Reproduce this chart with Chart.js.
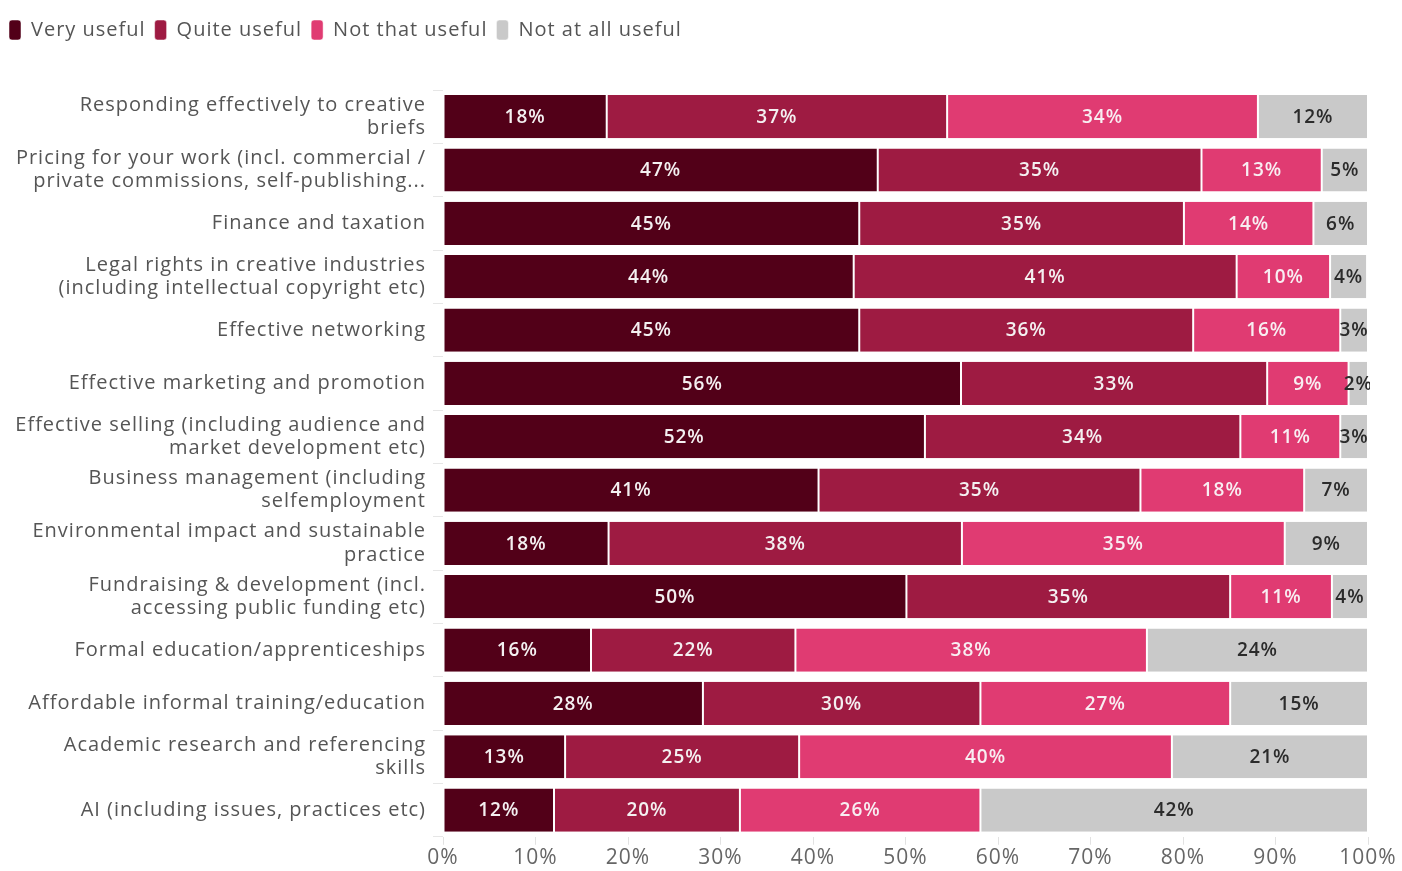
<!DOCTYPE html>
<html>
<head>
<meta charset="utf-8">
<script src="https://cdn.jsdelivr.net/npm/chart.js@4.4.1/dist/chart.umd.min.js"></script>
<style>
  html, body { margin: 0; padding: 0; background: #fff; }
  #wrap { position: relative; width: 1402px; height: 871px; }
</style>
</head>
<body>
<div id="wrap"><canvas id="c" width="1402" height="871"></canvas></div>
<script>
// Skill areas (each entry is a list of label lines)
const categories = [
  ["Responding effectively to creative", "briefs"],
  ["Pricing for your work (incl. commercial /", "private commissions, self-publishing..."],
  ["Finance and taxation"],
  ["Legal rights in creative industries", "(including intellectual copyright etc)"],
  ["Effective networking"],
  ["Effective marketing and promotion"],
  ["Effective selling (including audience and", "market development etc)"],
  ["Business management (including", "selfemployment"],
  ["Environmental impact and sustainable", "practice"],
  ["Fundraising & development (incl.", "accessing public funding etc)"],
  ["Formal education/apprenticeships"],
  ["Affordable informal training/education"],
  ["Academic research and referencing", "skills"],
  ["AI (including issues, practices etc)"]
];

// Share of respondents (%) per usefulness rating
const veryUseful     = [17.7, 47.0, 45.0, 44.4, 45.0, 56.0, 52.1, 40.6, 17.9, 50.1, 16.0, 28.1, 13.2, 12.0];
const quiteUseful    = [36.8, 35.0, 35.1, 41.4, 36.1, 33.1, 34.1, 34.8, 38.2, 35.0, 22.1, 30.0, 25.3, 20.1];
const notThatUseful  = [33.6, 13.0, 14.0, 10.1, 15.9,  8.8, 10.8, 17.7, 34.9, 11.0, 38.0, 27.0, 40.3, 26.0];
const notAtAllUseful = [11.9,  5.0,  5.9,  4.0,  3.0,  2.1,  3.0,  6.9,  9.0,  3.9, 23.9, 14.9, 21.2, 41.9];

const seriesNames = ["Very useful", "Quite useful", "Not that useful", "Not at all useful"];
const seriesColors = ["#520018", "#9e1b42", "#e03b72", "#c9c9c9"];
const labelColors = ["#f4f0f1", "#f4f0f1", "#f8eef2", "#2b2b2b"];

const xTicks = [0, 10, 20, 30, 40, 50, 60, 70, 80, 90, 100];

const FONT = "'Open Sans', 'Noto Sans', sans-serif";

// Slightly open tracking for all canvas text
const tracking = {
  id: 'tracking',
  beforeUpdate(chart) { chart.ctx.letterSpacing = '1px'; },
  beforeLayout(chart) { chart.ctx.letterSpacing = '1px'; },
  beforeDraw(chart) { chart.ctx.letterSpacing = '1px'; }
};

// Writes the rounded percentage in the middle of each segment
const segmentLabels = {
  id: 'segmentLabels',
  afterDatasetsDraw(chart) {
    const ctx = chart.ctx;
    const area = chart.chartArea;
    ctx.save();
    ctx.beginPath();
    ctx.rect(area.left, area.top - 5, area.right - area.left + 2, area.bottom - area.top + 10);
    ctx.clip();
    ctx.font = "600 19px " + FONT;
    ctx.textAlign = 'center';
    ctx.textBaseline = 'middle';
    chart.data.datasets.forEach((ds, di) => {
      const meta = chart.getDatasetMeta(di);
      meta.data.forEach((el, i) => {
        const v = ds.data[i];
        const cx = (el.x + el.base) / 2;
        ctx.fillStyle = labelColors[di];
        ctx.fillText(Math.round(v) + '%', cx, el.y + 1);
      });
    });
    ctx.restore();
  }
};

// Fixes the legend block height so the plot starts below it
const legendHeight = {
  id: 'legendHeight',
  afterInit(chart) {
    const lg = chart.legend;
    if (!lg) return;
    const fit = lg.fit.bind(lg);
    lg.fit = function () { fit(); this.height = 79; };
  }
};

new Chart(document.getElementById('c'), {
  type: 'bar',
  data: {
    labels: categories,
    datasets: [veryUseful, quiteUseful, notThatUseful, notAtAllUseful].map((d, i) => ({
      label: seriesNames[i],
      data: d,
      backgroundColor: seriesColors[i],
      borderColor: '#ffffff',
      borderWidth: { left: 1, right: 1, top: 0, bottom: 0 },
      borderSkipped: false,
      categoryPercentage: 0.81,
      barPercentage: 1.0
    }))
  },
  options: {
    indexAxis: 'y',
    responsive: false,
    animation: false,
    devicePixelRatio: 1,
    layout: { padding: { top: 11, right: 34, left: 0, bottom: 0 } },
    plugins: {
      legend: {
        position: 'top',
        align: 'start',
        labels: {
          boxWidth: 12,
          boxHeight: 20,
          useBorderRadius: true,
          borderRadius: 3,
          padding: 9,
          color: '#555555',
          font: { family: FONT, size: 20 }
        }
      },
      tooltip: { enabled: false }
    },
    scales: {
      x: {
        stacked: true,
        min: 0,
        max: 100,
        afterBuildTicks(scale) { scale.ticks = xTicks.map(v => ({ value: v })); },
        grid: { drawOnChartArea: false, drawTicks: true, tickLength: 8, color: '#e2e2e2' },
        border: { display: false },
        ticks: {
          color: '#666666',
          padding: 0,
          font: { family: FONT, size: 21, lineHeight: 1.25 },
          callback: v => v + '%'
        }
      },
      y: {
        stacked: true,
        afterFit(scale) { scale.width = 443; },
        grid: { drawOnChartArea: false, drawTicks: true, tickLength: 10, color: '#e6e6e6' },
        border: { display: false },
        ticks: {
          color: '#555555',
          padding: 7,
          font: { family: FONT, size: 20, lineHeight: 1.17 },
          autoSkip: false
        }
      }
    }
  },
  plugins: [tracking, segmentLabels, legendHeight]
});
</script>
</body>
</html>
